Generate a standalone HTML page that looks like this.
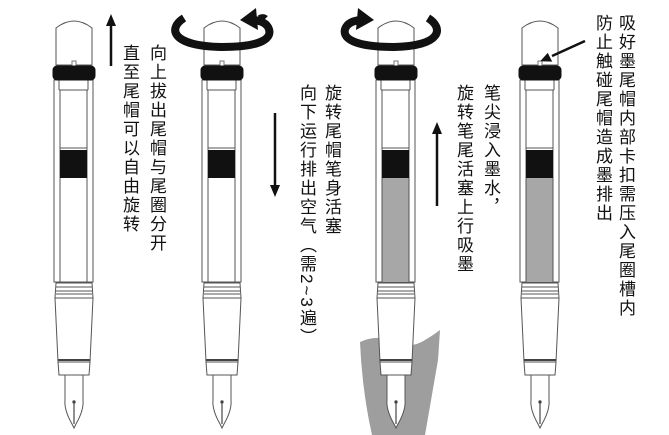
<!DOCTYPE html>
<html><head><meta charset="utf-8"><style>
html,body{margin:0;padding:0;background:#fff;}
#w{position:relative;width:669px;height:435px;overflow:hidden;}
svg{position:absolute;left:0;top:0;}
.t{position:absolute;writing-mode:vertical-rl;font-family:"Liberation Sans","Noto Sans CJK SC",sans-serif;font-size:17px;line-height:18px;letter-spacing:2px;color:#111;white-space:nowrap;}
</style></head><body><div id="w">
<svg width="669" height="435" viewBox="0 0 669 435">
<defs>
<g id="pen" fill="#fff" stroke="#555" stroke-width="1">
  <!-- cap -->
  <path d="M-18,65 L-18,28 Q0,14 18,28 L18,65 Z"/>
  <rect x="-2" y="61" width="4" height="5" fill="#fff" stroke="#777"/>
  <!-- body -->
  <rect x="-20" y="80" width="39" height="202"/>
  <line x1="-14" y1="90" x2="-14" y2="282"/>
  <line x1="13" y1="90" x2="13" y2="282"/>
  <line x1="-15" y1="80" x2="-15" y2="90"/>
  <line x1="14" y1="80" x2="14" y2="90"/>
  <line x1="-15" y1="90" x2="14" y2="90"/>
  <line x1="-14" y1="148" x2="13" y2="148"/>
  <!-- black ring -->
  <rect x="-21" y="66" width="42" height="14" rx="4" fill="#111" stroke="#111"/>
  <!-- section rings -->
  <path d="M-18,283 L18,283 L19,298 L-19,298 Z"/>
  <line x1="-18" y1="287" x2="18" y2="287"/>
  <line x1="-18" y1="291" x2="18" y2="291"/>
  <line x1="-18" y1="294" x2="18" y2="294"/>
  <!-- grip -->
  <path d="M-19,298 L19,298 L16,362 L-16,362 Z"/>
  <line x1="-16" y1="360" x2="16" y2="360" stroke="#444" stroke-width="2"/>
  <path d="M-16,362 L16,362 L15,375 L-15,375 Z"/>
  <!-- nib -->
  <path d="M-9,375 L9,375 L9,400 Q10,410 2,424 L0,428 L-2,424 Q-10,410 -9,400 Z"/>
  <line x1="0" y1="402" x2="0" y2="424" stroke="#222"/>
  <circle cx="0" cy="402" r="1.2" fill="#222"/>
</g>
<g id="piston"><rect x="-14" y="150" width="27" height="28" fill="#111"/></g>
<g id="ink"><rect x="-13.5" y="178" width="26" height="104" fill="#a7a7a7"/></g>
</defs>
<!-- ink bottle -->
<path d="M360,342 Q375,335 392,340 Q410,350 425,340 Q432,336 440,330 L438,360 L425,435 L372,435 Q362,390 360,342 Z" fill="#9e9e9e"/>
<use href="#pen" x="74"/><use href="#piston" x="74"/>
<use href="#pen" x="222"/><use href="#piston" x="222"/>
<use href="#pen" x="396"/><use href="#piston" x="396"/><use href="#ink" x="396"/>
<use href="#pen" x="540"/><use href="#piston" x="540"/><use href="#ink" x="540"/>
<!-- arrows -->
<g stroke="#111" stroke-width="2.5" fill="#111">
<line x1="111" y1="66" x2="111" y2="24"/><path d="M106,26 L111,14 L116,26 Z" stroke="none"/>
<line x1="275" y1="113" x2="275" y2="187"/><path d="M270,185 L275,197 L280,185 Z" stroke="none"/>
<line x1="437" y1="206" x2="437" y2="132"/><path d="M432,134 L437,122 L442,134 Z" stroke="none"/>
<line x1="585" y1="41" x2="552" y2="56"/><path d="M548,53 L540,61 L552,62 Z" stroke="none" transform="rotate(-3 546 58)"/>
</g>
<!-- rotation arrows -->
<g fill="none" stroke="#111" stroke-width="8" stroke-linecap="butt">
<path d="M184,18 C168,28 170,46 222,47 C262,47 274,38 268,27 C265,22 258,20 252,20"/>
<path d="M260,19 C263,17 265,19 265,19" />
<path d="M428,18 C444,28 442,46 394,47 C354,47 340,38 346,27 C349,22 356,20 362,20"/>
</g>
<path d="M256,8 L240,20 L258,30 Z" fill="#111"/>
<path d="M358,8 L374,20 L356,30 Z" fill="#111"/>
</svg>
<div class="t" style="left:147px;top:44px;">向上拔出尾帽与尾圈分开</div>
<div class="t" style="left:120px;top:44px;">直至尾帽可以自由旋转</div>
<div class="t" style="left:322px;top:84px;">旋转尾帽笔身活塞</div>
<div class="t" style="left:297px;top:84px;">向下运行排出空气（需2~3遍）</div>
<div class="t" style="left:481px;top:84px;">笔尖浸入墨水，</div>
<div class="t" style="left:454px;top:84px;">旋转笔尾活塞上行吸墨</div>
<div class="t" style="left:616px;top:14px;">吸好墨尾帽内部卡扣需压入尾圈槽内</div>
<div class="t" style="left:593px;top:14px;">防止触碰尾帽造成墨排出</div>
</div></body></html>
